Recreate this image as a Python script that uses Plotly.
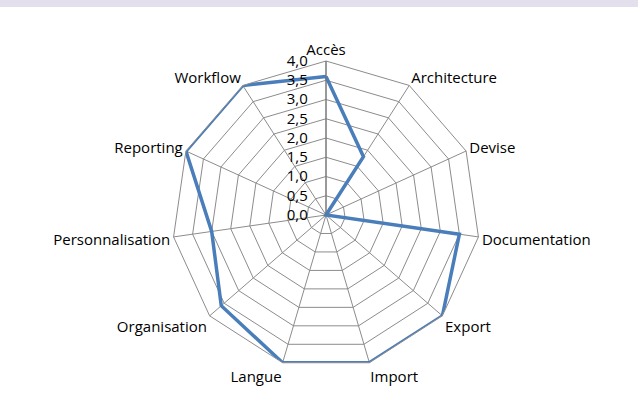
import plotly.graph_objects as go

categories = ["Accès", "Architecture", "Devise", "Documentation", "Export", "Import",
              "Langue", "Organisation", "Personnalisation", "Reporting", "Workflow"]
scores = [3.6, 1.8, 0.0, 3.5, 4.0, 4.0, 4.0, 3.6, 3.0, 4.0, 4.0]
radial_ticks = [0, 0.5, 1, 1.5, 2, 2.5, 3, 3.5, 4]

cor_linha = '#4a7ebb'
cor_grade = '#8c8c8c'
fonte = "Open Sans"

# rótulos com vírgula decimal + um espaço invisível para afastar do eixo
radial_text = [f"{v:.1f}".replace(".", ",") + "<span style='color:rgba(0,0,0,0)'>0,</span>"
               for v in radial_ticks]

# fechar o polígono
r_vals = scores + scores[:1]
theta_vals = categories + categories[:1]

fig = go.Figure()
fig.add_trace(go.Scatterpolar(
    r=r_vals,
    theta=theta_vals,
    mode="lines",
    line=dict(color=cor_linha, width=3.5),
    hoverinfo="skip",
    showlegend=False,
))

L, R, T, B = 172, 158, 61, 43
D = 638 - L - R

fig.update_layout(
    width=638, height=412,
    margin=dict(l=L, r=R, t=T, b=B),
    paper_bgcolor="white",
    font=dict(family=fonte, size=15, color="black"),
    polar=dict(
        bgcolor="white",
        gridshape="linear",
        angularaxis=dict(
            rotation=90,
            direction="clockwise",
            categoryorder="array",
            categoryarray=categories,
            showline=True,
            linecolor=cor_grade,
            linewidth=1,
            gridcolor=cor_grade,
            gridwidth=1,
            ticks="",
            tickfont=dict(family=fonte, size=15, color="black"),
        ),
        radialaxis=dict(
            range=[0, 4],
            tickvals=radial_ticks,
            ticktext=radial_text,
            angle=90,
            tickangle=90,
            side="counterclockwise",
            showline=True,
            linecolor="#6e6e6e",
            linewidth=1,
            gridcolor=cor_grade,
            gridwidth=1,
            ticks="",
            tickfont=dict(family=fonte, size=15, color="black"),
        ),
    ),
)

# faixa lilás no topo
fig.add_shape(type="rect", xref="paper", yref="paper",
              x0=-L / D, x1=1 + R / D,
              y0=1 + (T - 7) / D, y1=1 + T / D,
              fillcolor="#e4dfec", line=dict(width=0), layer="below")

fig.write_html("out.html", config={"displayModeBar": False},
               post_script="document.body.style.margin='0';")
